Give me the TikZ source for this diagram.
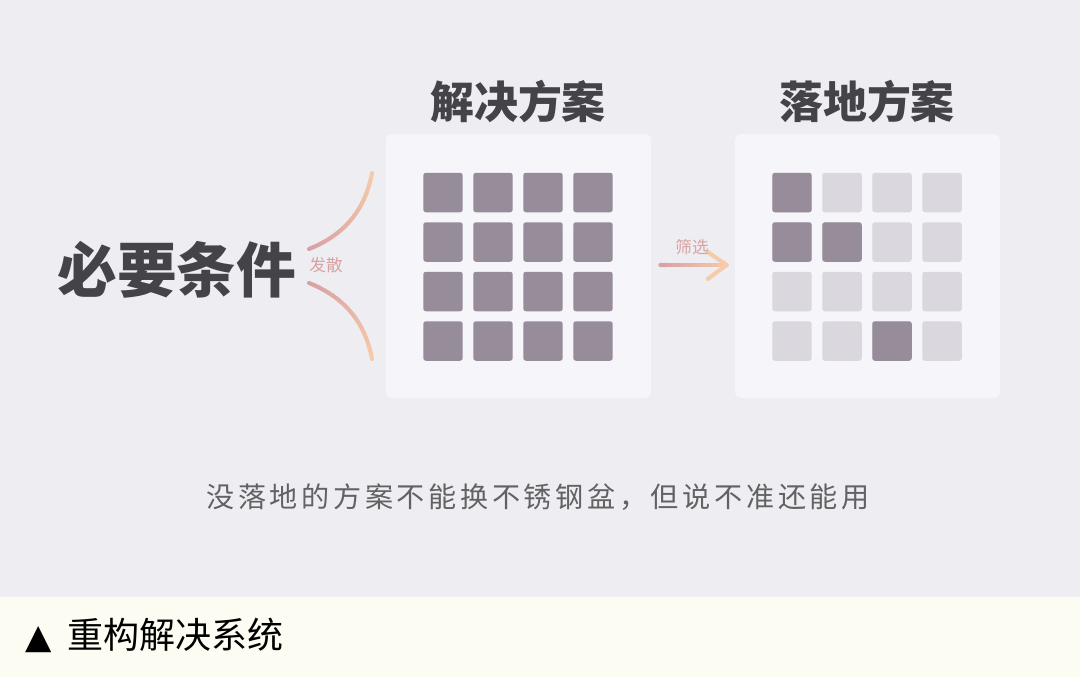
\documentclass[tikz,border=0pt]{standalone}
\usepackage{fontspec}
\usetikzlibrary{calc}
\newfontfamily\cjk{Noto Sans CJK SC}
\newfontfamily\cjkhand[LetterSpace=13]{Noto Sans CJK SC}
\newfontfamily\symfont{DejaVu Sans}
\definecolor{pagebg}{HTML}{EEEDF2}
\definecolor{panelbg}{HTML}{F6F5FA}
\definecolor{cellon}{HTML}{968C9A}
\definecolor{celloff}{HTML}{DAD7DF}
\definecolor{headc}{HTML}{444347}
\definecolor{pinkc}{HTML}{D8A2A4}
\definecolor{peachc}{HTML}{F6CBA9}
\definecolor{notec}{HTML}{626264}
\definecolor{bandc}{HTML}{FDFCF2}
\tikzset{
  panel/.style={fill=panelbg, rounded corners=3pt, minimum width=5.3cm, minimum height=5.28cm, inner sep=0pt},
  cell/.style={fill=#1, rounded corners=1.5pt, minimum size=0.79cm, inner sep=0pt},
  headtext/.style={font=\cjk\bfseries\fontsize{25}{25}\selectfont, text=headc},
  smalltag/.style={font=\cjk\fontsize{9.5}{9.5}\selectfont, text=pinkc},
  pen/.style={line width=2.3pt, line cap=round}
}
\begin{document}
\begin{tikzpicture}[x=0.02cm, y=-0.02cm]
		%==page and band
		\fill[pagebg] (0,0) rectangle (1080,677);
		\fill[bandc] (0,597) rectangle (1080,677);
		\useasboundingbox (0,0) rectangle (1080,677);
		%==the two panels
		\node[panel] (solvebox) at (518.5,266) {};
		\node[panel] (landbox) at (867.5,266) {};
		\node[headtext] (solve) at (518,102) {解决方案};
		\node[headtext] (land) at (867,102) {落地方案};
		%==cells: left all dark, right only a few
		\foreach \r in {0,...,3}
		\foreach \c in {0,...,3}{
			\node[cell=cellon] (a\r\c) at (443+50*\c,192.5+49.5*\r) {};
			\node[cell=celloff] (b\r\c) at (792+50*\c,192.5+49.5*\r) {};
		}
		\foreach \p in {00,10,11,32}
		\node[cell=cellon] at (b\p) {};
		%==left word
		\node[font=\cjk\bfseries\fontsize{34}{34}\selectfont, text=headc] (need) at (177,270) {必要条件};
		\node[smalltag] (spread) at (326,265) {发散};
		%==two curves, pink to peach
		\path (309,249)coordinate(U0) (362,228)coordinate(U1) (372,173)coordinate(U2)
		(309,283)coordinate(L0) (362,304)coordinate(L1) (372,359)coordinate(L2);
		\foreach \i in {0,...,19}{
			\pgfmathsetmacro\ta{\i/20}
			\pgfmathsetmacro\tb{(\i+1)/20}
			\pgfmathtruncatemacro\mix{100-5*\i}
			\draw[pen, draw=pinkc!\mix!peachc]
			($($(U0)!\ta!(U1)$)!\ta!($(U1)!\ta!(U2)$)$)--($($(U0)!\tb!(U1)$)!\tb!($(U1)!\tb!(U2)$)$)
			($($(L0)!\ta!(L1)$)!\ta!($(L1)!\ta!(L2)$)$)--($($(L0)!\tb!(L1)$)!\tb!($(L1)!\tb!(L2)$)$);
		}
		%==filter arrow
		\path ($(solvebox.east)+(9,-1)$)coordinate(F0)
		($(landbox.west)+(-8,-1)$)coordinate(F1)
		($(F1)+(-19,-13)$)coordinate(Fa)
		($(F1)+(-19,14)$)coordinate(Fb);
		\foreach \i in {0,...,9}
		\draw[pen, draw=pinkc!\the\numexpr100-10*\i\relax!peachc]
		($(F0)!\i/10!(F1)$)--($(F0)!\i/10+0.1!(F1)$);
		\draw[pen, draw=peachc, line join=round] (Fa)--(F1)--(Fb);
		\node[smalltag] (pick) at (692,247) {筛选};
		%==note and caption
		\node[font=\cjkhand\fontsize{16}{16}\selectfont, text=notec] (note) at (538,497) {没落地的方案不能换不锈钢盆，但说不准还能用};
		\node[anchor=west, font=\cjk\fontsize{20.5}{20.5}\selectfont, inner sep=0pt] (caption) at (25,635) {{\symfont\fontsize{19.5}{19.5}\selectfont ▲}\hspace{9pt}重构解决系统};
\end{tikzpicture}
\end{document}
